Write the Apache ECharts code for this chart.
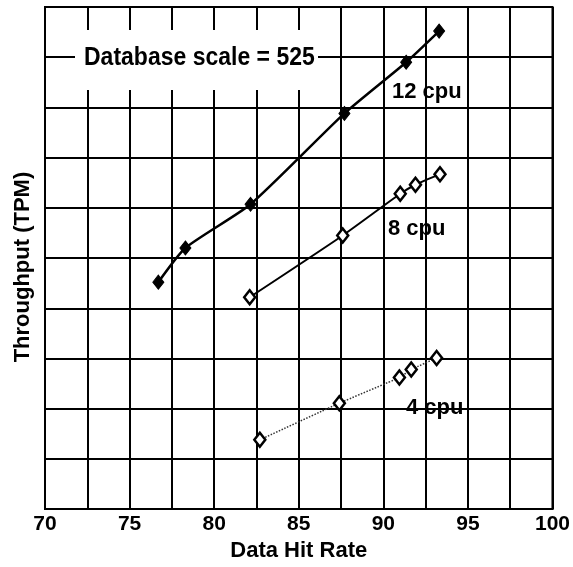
<!DOCTYPE html>
<html>
<head>
<meta charset="utf-8">
<script src="https://cdn.jsdelivr.net/npm/echarts@6/dist/echarts.min.js"></script>
<style>html,body{margin:0;padding:0;background:#fff;}#c{width:573px;height:567px;}</style>
</head>
<body>
<div id="c"></div>
<script>
const xLabels = ['70', '75', '80', '85', '90', '95', '100'];
const cpu12X = [76.7, 78.3, 82.15, 87.7, 91.35, 93.3];
const cpu12Y = [4.52, 5.20, 6.07, 7.88, 8.90, 9.52];
const cpu8X = [82.1, 87.6, 91.0, 91.9, 93.35];
const cpu8Y = [4.22, 5.45, 6.28, 6.46, 6.67];
const cpu4X = [82.7, 87.4, 90.95, 91.65, 93.15];
const cpu4Y = [1.38, 2.11, 2.62, 2.78, 3.01];
const seriesNames = ['12 cpu', '8 cpu', '4 cpu'];
const annotation = 'Database scale = 525';

const zip = (xs, ys) => xs.map((x, i) => [x, ys[i]]);
const FONT = 'Liberation Sans, Arial, Helvetica, sans-serif';

const chart = echarts.init(document.getElementById('c'), null, {renderer: 'canvas'});
chart.setOption({
  animation: false,
  backgroundColor: '#fff',
  grid: {left: 45, top: 7, width: 508, height: 510, show: true, borderColor: '#000', borderWidth: 2, backgroundColor: 'transparent'},
  xAxis: {
    type: 'value', min: 70, max: 100, interval: 2.5,
    name: 'Data Hit Rate', nameLocation: 'middle', nameGap: 27,
    nameTextStyle: {fontFamily: FONT, fontSize: 22, fontWeight: 'bold', color: '#000'},
    axisLine: {show: true, lineStyle: {color: '#000', width: 2}},
    axisTick: {show: false},
    axisLabel: {
      margin: 5, fontFamily: FONT, fontSize: 21, fontWeight: 'bold', color: '#000',
      formatter: v => { const s = String(v); return xLabels.includes(s) ? s : ''; }
    },
    splitLine: {show: true, lineStyle: {color: '#000', width: 2}}
  },
  yAxis: {
    type: 'value', min: 0, max: 10, interval: 1,
    name: 'Throughput (TPM)', nameLocation: 'middle', nameGap: 11, nameRotate: 90,
    nameTextStyle: {fontFamily: FONT, fontSize: 22, fontWeight: 'bold', color: '#000', padding: [0, 18, 0, 0]},
    axisLine: {show: true, lineStyle: {color: '#000', width: 2}},
    axisTick: {show: false},
    axisLabel: {show: false},
    splitLine: {show: true, lineStyle: {color: '#000', width: 2}}
  },
  series: [
    {
      name: seriesNames[0], type: 'line', data: zip(cpu12X, cpu12Y), smooth: 0.2,
      symbol: 'diamond', symbolSize: [11, 14],
      lineStyle: {color: '#000', width: 2.5},
      itemStyle: {color: '#000', borderColor: '#000', borderWidth: 1}, z: 5
    },
    {
      name: seriesNames[1], type: 'line', data: zip(cpu8X, cpu8Y), smooth: 0.2,
      symbol: 'diamond', symbolSize: [11, 14],
      lineStyle: {color: '#000', width: 2},
      itemStyle: {color: '#fff', borderColor: '#000', borderWidth: 2.5}, z: 5
    },
    {
      name: seriesNames[2], type: 'line', data: zip(cpu4X, cpu4Y), smooth: 0.1,
      symbol: 'diamond', symbolSize: [11, 14],
      lineStyle: {color: '#333', width: 1.5, type: 'dotted'},
      itemStyle: {color: '#fff', borderColor: '#000', borderWidth: 2.5}, z: 5
    }
  ],
  graphic: [
    {type: 'rect', shape: {x: 75, y: 30, width: 243, height: 60}, style: {fill: '#fff'}, z: 50},
    {type: 'text', x: 84, y: 58, scaleY: 1.12, style: {text: annotation, fontFamily: FONT, fontSize: 23, fontWeight: 'bold', fill: '#000', verticalAlign: 'middle'}, z: 51},
    {type: 'text', x: 392, y: 92, style: {text: seriesNames[0], fontFamily: FONT, fontSize: 22, fontWeight: 'bold', fill: '#000', verticalAlign: 'middle'}, z: 51},
    {type: 'text', x: 388, y: 229, style: {text: seriesNames[1], fontFamily: FONT, fontSize: 22, fontWeight: 'bold', fill: '#000', verticalAlign: 'middle'}, z: 51},
    {type: 'text', x: 406, y: 408, style: {text: seriesNames[2], fontFamily: FONT, fontSize: 22, fontWeight: 'bold', fill: '#000', verticalAlign: 'middle'}, z: 51}
  ]
});
</script>
</body>
</html>
